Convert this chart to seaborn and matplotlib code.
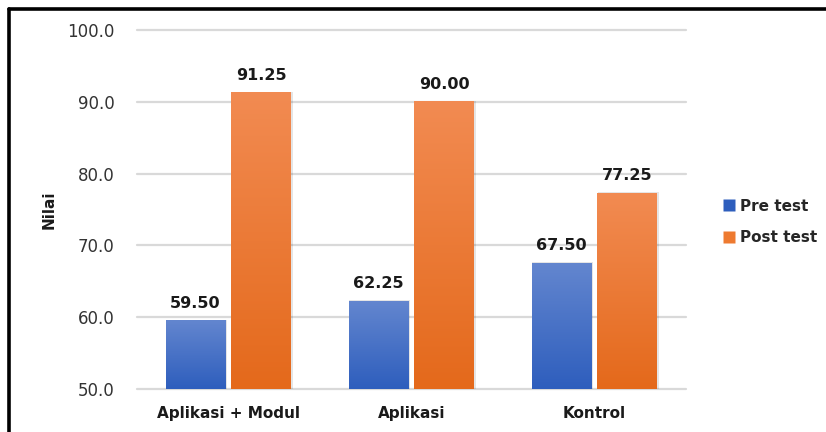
import numpy as np
import pandas as pd
import matplotlib
matplotlib.use("Agg")
import matplotlib.pyplot as plt
import seaborn as sns
from matplotlib.colors import LinearSegmentedColormap
from matplotlib.patches import Rectangle
from matplotlib.lines import Line2D

# Data
categories = ["Aplikasi + Modul", "Aplikasi", "Kontrol"]
series = ["Pre test", "Post test"]
pre_test = [59.50, 62.25, 67.50]
post_test = [91.25, 90.00, 77.25]
y_ticks = [50.0, 60.0, 70.0, 80.0, 90.0, 100.0]

df = pd.DataFrame({
    "Kelompok": categories * 2,
    "Tes": [series[0]] * 3 + [series[1]] * 3,
    "Nilai": pre_test + post_test,
})

base_colors = {"Pre test": "#4472C4", "Post test": "#ED7D31"}
grad = {
    "Pre test": ("#6386CF", "#2E5EBD"),
    "Post test": ("#F28B52", "#E4691B"),
}

sns.set_theme(style="white")
plt.rcParams["font.family"] = ["DejaVu Sans"]

fig = plt.figure(figsize=(8.26, 4.32), dpi=100)
ax = fig.add_axes([137 / 826, 1 - 389 / 432, (686 - 137) / 826, (389 - 30) / 432])

sns.barplot(data=df, x="Kelompok", y="Nilai", hue="Tes", hue_order=series,
            order=categories, palette=base_colors, width=0.72, gap=0.09,
            legend=False, ax=ax, zorder=3)

ax.set_ylim(50, 100)
ax.set_xlim(-0.5, 2.5)

# Replace flat bar fills with vertical gradients
bars = [p for p in ax.patches if isinstance(p, Rectangle) and p.get_height() > 0]
for i, bar in enumerate(bars):
    name = series[i // 3]
    x0, w = bar.get_x(), bar.get_width()
    y_top = bar.get_y() + bar.get_height()
    bar.set_facecolor("none")
    bar.set_edgecolor("none")
    cmap = LinearSegmentedColormap.from_list(name, [grad[name][1], grad[name][0]])
    g = np.linspace(0, 1, 256).reshape(-1, 1)
    # soft shadow
    sh = Rectangle((x0 + 0.004, 50), w + 0.004, y_top - 50 + 0.15,
                   facecolor="#000000", alpha=0.10, edgecolor="none", zorder=2.5)
    ax.add_patch(sh)
    ax.imshow(g, cmap=cmap, origin="lower", aspect="auto",
              extent=(x0, x0 + w, 50, y_top), zorder=3, interpolation="bicubic")
    ax.text(x0 + w / 2, y_top + 1.4, f"{y_top:.2f}", ha="center", va="bottom",
            fontsize=11.5, fontweight="bold", color="#1a1a1a", zorder=4)

ax.set_xlim(-0.5, 2.5)
ax.set_ylim(50, 100)
ax.set_yticks(y_ticks)
ax.set_yticklabels([f"{v:.1f}" for v in y_ticks], fontsize=12, color="#333333")
ax.tick_params(axis="y", length=0, pad=16)
ax.tick_params(axis="x", length=0, pad=12)
for lbl in ax.get_xticklabels():
    lbl.set_fontsize(11)
    lbl.set_fontweight("bold")
    lbl.set_color("#1a1a1a")
ax.yaxis.grid(True, color="#D9D9D9", linewidth=1.6, zorder=0)
for gl in ax.get_ygridlines():
    gl.set_clip_on(False)
ax.set_axisbelow(True)
for s in ax.spines.values():
    s.set_visible(False)
ax.set_xlabel("")
ax.set_ylabel("Nilai", fontsize=11, fontweight="bold", color="#1a1a1a")
ax.yaxis.set_label_coords(-0.147, 0.5)

# Legend
handles = [Line2D([0], [0], marker="s", linestyle="none", markersize=8,
                  markerfacecolor=grad[s][1] if s == "Pre test" else "#EE7A30",
                  markeredgecolor="none") for s in series]
fig.legend(handles, series, loc="center left", bbox_to_anchor=(708 / 826, 1 - 222 / 432),
           frameon=False, prop={"weight": "bold", "size": 11}, handletextpad=0.2,
           labelspacing=1.1, handlelength=1.0)

# Outer frame
fig.add_artist(Line2D([9 / 826, 1.2], [1 - 9 / 432, 1 - 9 / 432], transform=fig.transFigure,
                      color="black", linewidth=2.6))
fig.add_artist(Line2D([9 / 826, 9 / 826], [-0.2, 1 - 9 / 432], transform=fig.transFigure,
                      color="black", linewidth=2.6))

fig.savefig("out.png", dpi=100)
